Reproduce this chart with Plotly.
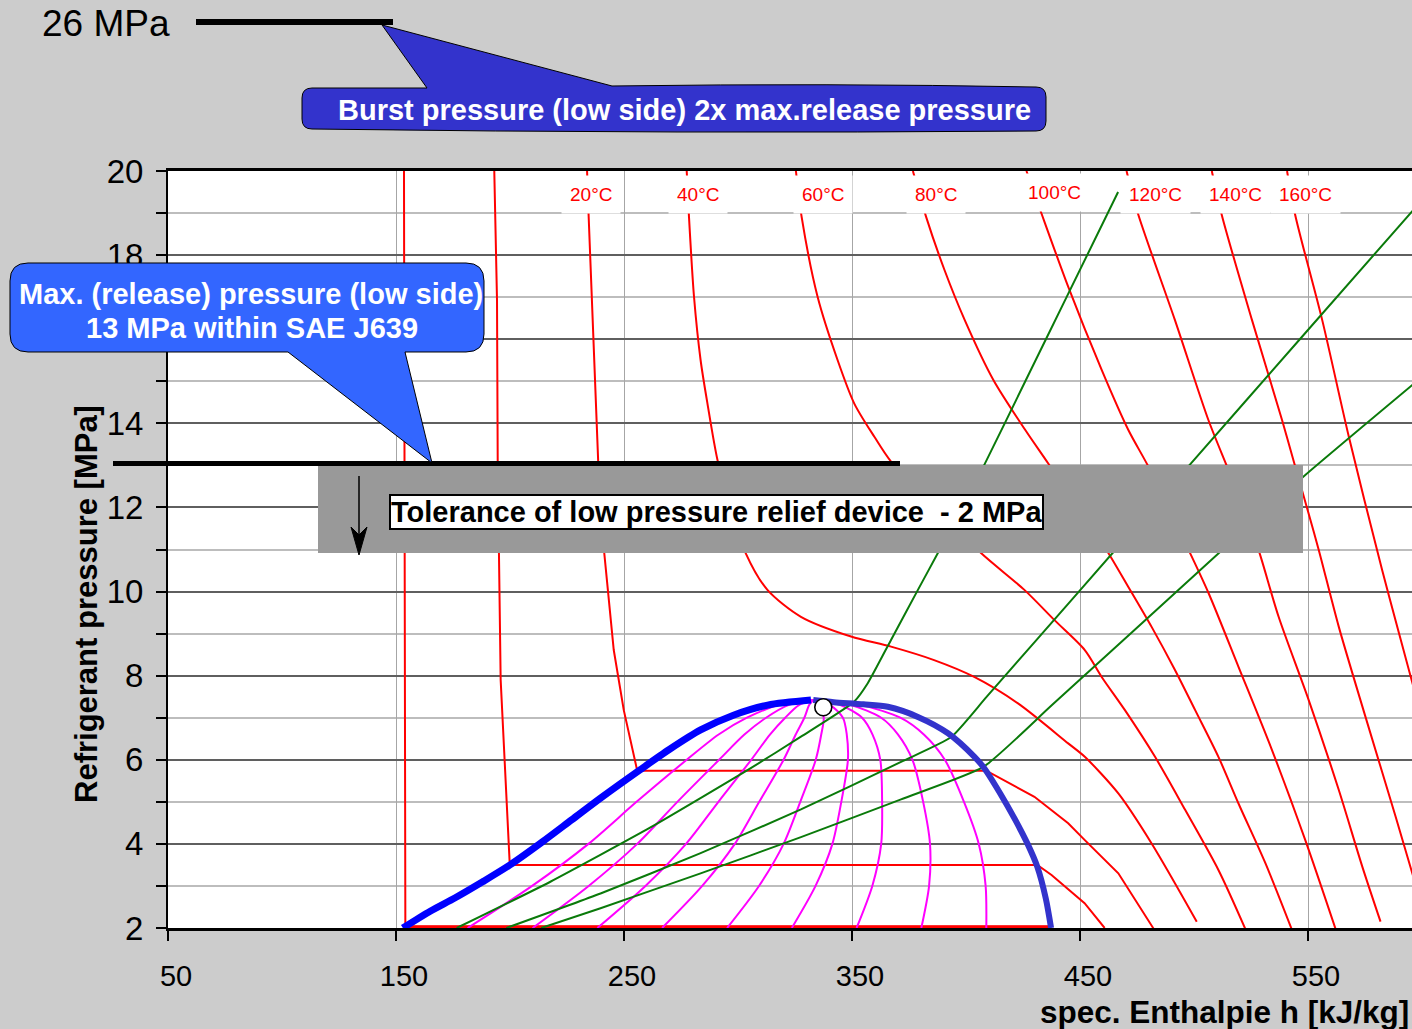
import plotly.graph_objects as go

# ---------------- data ----------------
# saturation dome
dome_liq_h = [153, 165, 176, 188, 200, 213, 227, 240, 257, 270, 283.6, 298, 313, 332]
dome_liq_p = [2.0, 2.4, 2.72, 3.1, 3.5, 4.0, 4.57, 5.1, 5.76, 6.25, 6.71, 7.06, 7.30, 7.42]
dome_vap_h = [333, 342, 355, 365.7, 378.9, 392.1, 403.7, 408, 415, 421.6, 427, 431.3, 435, 437.3]
dome_vap_p = [7.42, 7.37, 7.32, 7.26, 7.02, 6.63, 6.07, 5.80, 5.2, 4.57, 4.0, 3.45, 2.7, 2.0]
crit_h = [337.4]
crit_p = [7.25]

# isotherms (h in kJ/kg, p in MPa)
t_m20_h = [153.5, 153.7, 153.9, 154.1, 437.3]
t_m20_p = [20, 14, 8, 2.03, 2.03]
t_0_h = [193.1, 194.3, 194.6, 195.3, 195.9, 199.9, 431.3, 437.5, 452.0, 460.8]
t_0_p = [20, 16.93, 13.13, 10.51, 7.9, 3.5, 3.5, 3.26, 2.59, 2.0]
t_20_h = [233.8, 234.5, 238.7, 241.2, 245.5, 249.9, 255.8, 408.9, 430.0, 437.5, 444.8, 452.1, 466.8, 482.2]
t_20_p = [20, 18.91, 13.06, 10.99, 8.61, 7.18, 5.74, 5.74, 5.12, 4.81, 4.49, 4.09, 3.30, 1.99]
t_40_h = [277.5, 278.5, 280.7, 283.6, 286.6, 291.0, 296.4, 303.4, 312.9, 327.6, 349.6, 367.1, 386.0,
          403.6, 422.8, 444.8, 452.1, 466.8, 481.4, 501.2]
t_40_p = [20, 18.91, 17.01, 15.5, 14.47, 13.13, 12.06, 10.91, 10.04, 9.40, 8.93, 8.69, 8.37,
          7.97, 7.34, 6.39, 6.07, 5.20, 4.01, 2.15]
t_60_h = [325.4, 327.9, 334.9, 343.7, 351.0, 359.8, 367.1, 386.9, 406.7, 425.6, 438.8, 452.1, 459.5,
          469.7, 482.9, 496.1, 510.7, 522.4]
t_60_p = [20, 18.91, 17.01, 15.5, 14.47, 13.68, 13.09, 12.0, 10.91, 10.04, 9.32, 8.61, 7.97,
          7.18, 6.07, 4.81, 3.38, 1.99]
t_80_h = [376.7, 382.5, 390.6, 399.4, 412.0, 426.0, 436.0, 449.0, 461.6, 471.2, 481.4, 491.7, 500.5,
          510.7, 519.5, 531.3, 542.7]
t_80_p = [20, 18.91, 17.64, 16.46, 15.03, 13.84, 13.05, 12.0, 10.99, 10.11, 9.16, 8.13, 7.18,
          6.07, 4.96, 3.54, 1.99]
t_100_h = [426.5, 433.1, 444.8, 459.5, 471.2, 480.0, 488.5, 497.6, 506.4, 519.5, 534.2, 548.8, 562.0]
t_100_p = [20, 18.99, 17.25, 15.27, 13.84, 12.97, 12.0, 10.99, 9.96, 8.21, 6.23, 4.09, 1.99]
t_120_h = [470.4, 475.4, 491.6, 506.3, 515.1, 521.5, 528.3, 537.1, 550.3, 563.5, 573.8, 581.8]
t_120_p = [20, 18.99, 16.46, 14.08, 12.89, 12.0, 10.99, 9.40, 7.42, 5.28, 3.46, 2.15]
t_140_h = [507.8, 512.2, 525.4, 538.6, 544.4, 549.5, 554.7, 563.5, 575.2, 588.4, 596.6]
t_140_p = [20, 18.95, 16.46, 14.08, 12.97, 12.0, 10.99, 9.16, 7.02, 4.65, 3.14]
t_160_h = [540.8, 544.4, 556.2, 567.9, 582.5, 589.9, 596.6]
t_160_p = [20, 18.95, 16.46, 13.68, 10.51, 9.01, 7.66]

iso_labels = ["20°C", "40°C", "60°C", "80°C", "100°C", "120°C", "140°C", "160°C"]
iso_label_h = [235.4, 282.3, 337.4, 386.7, 439.0, 483.2, 518.0, 549.0]
iso_label_p = [19.45, 19.45, 19.45, 19.45, 19.49, 19.44, 19.44, 19.44]

# vapour quality lines x = 0.1 ... 0.9
qual_p = [2.0, 3.0, 4.0, 5.0, 6.0, 6.6, 7.0, 7.3, 7.42]
qual_h = [
    [181.4, 209.7, 234.4, 255.5, 277.5, 291.5, 303.9, 317.6, 333],
    [209.9, 234.5, 255.8, 273.4, 291.7, 302.8, 312.3, 322.1, 333],
    [238.3, 259.4, 277.2, 291.4, 305.8, 314.0, 320.7, 326.7, 333],
    [266.7, 284.3, 298.6, 309.3, 320.0, 325.3, 329.1, 331.2, 333],
    [295.2, 309.2, 320.0, 327.3, 334.1, 336.5, 337.6, 335.8, 333],
    [323.6, 334.0, 341.4, 345.3, 348.2, 347.7, 346.0, 340.4, 333],
    [352.0, 358.9, 362.8, 363.2, 362.4, 359.0, 354.4, 344.9, 333],
    [380.4, 383.8, 384.2, 381.2, 376.5, 370.2, 362.8, 349.5, 333],
    [408.9, 408.6, 405.6, 399.1, 390.7, 381.5, 371.2, 354.0, 333],
]

# isentropes
s1_h = [176.6, 217.7, 261.6, 305.6, 327.6, 350.9, 356.9, 367.1, 378.9, 387.6, 398.2, 407.9,
        426.0, 444.1, 466.7]
s1_p = [2.0, 3.10, 4.39, 5.80, 6.55, 7.38, 7.82, 8.85, 10.04, 10.91, 12.0, 13.0,
        15.0, 17.0, 19.5]
s2_h = [198.4, 239.7, 283.6, 327.6, 371.5, 393.5, 409.1, 449.5, 497.9, 546.4, 596.6]
s2_p = [2.0, 2.82, 3.78, 4.82, 5.95, 6.54, 7.5, 10.0, 13.0, 16.0, 19.1]
s3_h = [213.7, 239.7, 283.6, 327.6, 371.5, 407.6, 437.7, 510.8, 548.8, 596.6]
s3_p = [2.0, 2.47, 3.30, 4.16, 5.06, 5.83, 7.3, 10.91, 12.77, 14.95]

x_ticks = [50, 150, 250, 350, 450, 550]
y_ticks = [2, 4, 6, 8, 10, 12, 14, 16, 18, 20]

# ---------------- figure ----------------
W, H = 1412, 1029
L, T, PW, PH = 168, 171, 1244, 757
FONT = "Liberation Sans, Arial, sans-serif"


def fx(px):
    return (px - L) / PW


def fy(py):
    return (T + PH - py) / PH


fig = go.Figure()


def add_line(h, p, color, width, shape="spline", smoothing=0.8):
    fig.add_trace(go.Scatter(x=h, y=p, mode="lines",
                             line=dict(color=color, width=width, shape=shape, smoothing=smoothing),
                             hoverinfo="skip", showlegend=False))


RED = "#ff0000"
for h, p in [(t_m20_h, t_m20_p), (t_0_h, t_0_p), (t_20_h, t_20_p)]:
    add_line(h, p, RED, 2, "linear")
add_line(t_m20_h[-2:], t_m20_p[-2:], RED, 3, "linear")
for h, p in [(t_40_h, t_40_p), (t_60_h, t_60_p), (t_80_h, t_80_p), (t_100_h, t_100_p),
             (t_120_h, t_120_p), (t_140_h, t_140_p), (t_160_h, t_160_p)]:
    add_line(h, p, RED, 2)

for qh in qual_h:
    add_line(qh, qual_p, "#ff00ff", 2)

for h, p in [(s1_h, s1_p), (s2_h, s2_p), (s3_h, s3_p)]:
    add_line(h, p, "#0a7a0a", 2, "spline", 0.5)

add_line(dome_liq_h, dome_liq_p, "#0000ff", 7)
add_line(dome_vap_h, dome_vap_p, "#3333cc", 6)

fig.add_trace(go.Scatter(x=crit_h, y=crit_p, mode="markers",
                         marker=dict(size=17, color="white", line=dict(color="black", width=1.6)),
                         hoverinfo="skip", showlegend=False))

shapes = []
# 26 MPa bar
shapes.append(dict(type="line", xref="paper", yref="paper", x0=fx(196), x1=fx(393),
                   y0=fy(22), y1=fy(22), line=dict(color="black", width=6)))


def P(x, y):
    return f"{fx(x):.5f},{fy(y):.5f}"


# burst-pressure callout
path1 = ("M" + P(312, 88) + " L" + P(427, 88) + " L" + P(382, 25) + " L" + P(612, 86) +
         " Q" + P(830, 83) + " " + P(1036, 87) + " Q" + P(1046, 87) + " " + P(1046, 97) +
         " L" + P(1046, 121) + " Q" + P(1046, 131) + " " + P(1036, 131) +
         " Q" + P(680, 134) + " " + P(312, 129) + " Q" + P(302, 129) + " " + P(302, 119) +
         " L" + P(302, 98) + " Q" + P(302, 88) + " " + P(312, 88) + " Z")
shapes.append(dict(type="path", xref="paper", yref="paper", path=path1,
                   fillcolor="#3333cc", line=dict(color="black", width=1)))

# gray tolerance band
shapes.append(dict(type="rect", xref="paper", yref="paper", x0=fx(318), x1=fx(1303),
                   y0=fy(553), y1=fy(465), fillcolor="#999999", line=dict(width=0)))
# 13 MPa bar
shapes.append(dict(type="line", xref="paper", yref="paper", x0=fx(113), x1=fx(900),
                   y0=fy(463.5), y1=fy(463.5), line=dict(color="black", width=5)))
# max release callout
path2 = ("M" + P(28, 263) + " L" + P(466, 263) + " Q" + P(484, 263) + " " + P(484, 281) +
         " L" + P(484, 334) + " Q" + P(484, 352) + " " + P(466, 352) +
         " L" + P(405, 352) + " L" + P(432, 463) + " L" + P(288, 352) +
         " L" + P(28, 352) + " Q" + P(10, 352) + " " + P(10, 334) +
         " L" + P(10, 281) + " Q" + P(10, 263) + " " + P(28, 263) + " Z")
shapes.append(dict(type="path", xref="paper", yref="paper", path=path2,
                   fillcolor="#3366ff", line=dict(color="black", width=1)))
# down arrow
shapes.append(dict(type="line", xref="paper", yref="paper", x0=fx(359), x1=fx(359),
                   y0=fy(476), y1=fy(535), line=dict(color="black", width=1.5)))
shapes.append(dict(type="path", xref="paper", yref="paper",
                   path="M" + P(351, 527) + " L" + P(359, 535) + " L" + P(367, 527) +
                        " L" + P(359, 555) + " Z",
                   fillcolor="black", line=dict(color="black", width=1)))
for s in shapes:
    s["layer"] = "above"


def txt(x, y, text, size, color="black", **kw):
    d = dict(xref="paper", yref="paper", x=fx(x), y=fy(y), text=text, showarrow=False,
             xanchor="center", yanchor="middle",
             font=dict(size=size, color=color, family=FONT))
    d.update(kw)
    return d


ann = []
ann.append(txt(106, 23, "26 MPa", 37))
ann.append(txt(684, 110, "<b>Burst pressure (low side) 2x max.release pressure</b>", 29, "white"))
ann.append(txt(251, 294, "<b>Max. (release) pressure (low side)</b>", 29, "white"))
ann.append(txt(252, 328, "<b>13 MPa within SAE J639</b>", 29, "white"))
ann.append(txt(716, 512, "<b>Tolerance of low pressure relief device\u00a0\u00a0- 2 MPa</b>", 29,
               bgcolor="white", bordercolor="black", borderwidth=2, borderpad=0))
ann.append(txt(86, 604, "<b>Refrigerant pressure [MPa]</b>", 31, textangle=-90))
ann.append(txt(1411, 1012, "<b>spec. Enthalpie h [kJ/kg]</b>", 31.5, xanchor="right"))
for lab, lh, lp in zip(iso_labels, iso_label_h, iso_label_p):
    ann.append(dict(xref="x", yref="y", x=lh, y=lp, text=lab, showarrow=False,
                    xanchor="center", yanchor="middle",
                    bgcolor="white", borderpad=8,
                    font=dict(size=19, color=RED, family=FONT)))

fig.update_layout(
    width=W, height=H,
    margin=dict(l=L, r=0, t=T, b=H - T - PH, pad=0),
    paper_bgcolor="#cccccc", plot_bgcolor="white",
    font=dict(family=FONT, color="black"),
    shapes=shapes, annotations=ann, showlegend=False,
    xaxis=dict(range=[50, 595.6], tickvals=x_ticks, ticktext=[str(v) for v in x_ticks],
               ticks="outside", ticklen=10, tickwidth=1.5, tickcolor="black",
               showgrid=True, gridcolor="#a6a6a6", gridwidth=1.2,
               showline=True, linecolor="black", linewidth=3, mirror=True,
               zeroline=False, tickfont=dict(size=29, color="black"),
               ticklabelshift=8, ticklabelstandoff=10),
    yaxis=dict(range=[2, 20], tickvals=y_ticks, ticktext=[str(v) for v in y_ticks],
               ticks="outside", ticklen=10, tickwidth=1.5, tickcolor="black",
               showgrid=True, gridcolor="#5f5f5f", gridwidth=1.5,
               minor=dict(dtick=1, tick0=1, ticks="outside", ticklen=10, tickwidth=1.5,
                          tickcolor="black", showgrid=True, gridcolor="#bdbdbd", gridwidth=1.5),
               showline=True, linecolor="black", linewidth=2, mirror=False,
               zeroline=False, tickfont=dict(size=33, color="black"),
               ticklabelstandoff=6),
)

fig.write_html("out.html", config={"displayModeBar": False},
               post_script="document.body.style.margin='0';document.body.style.overflow='hidden';")
